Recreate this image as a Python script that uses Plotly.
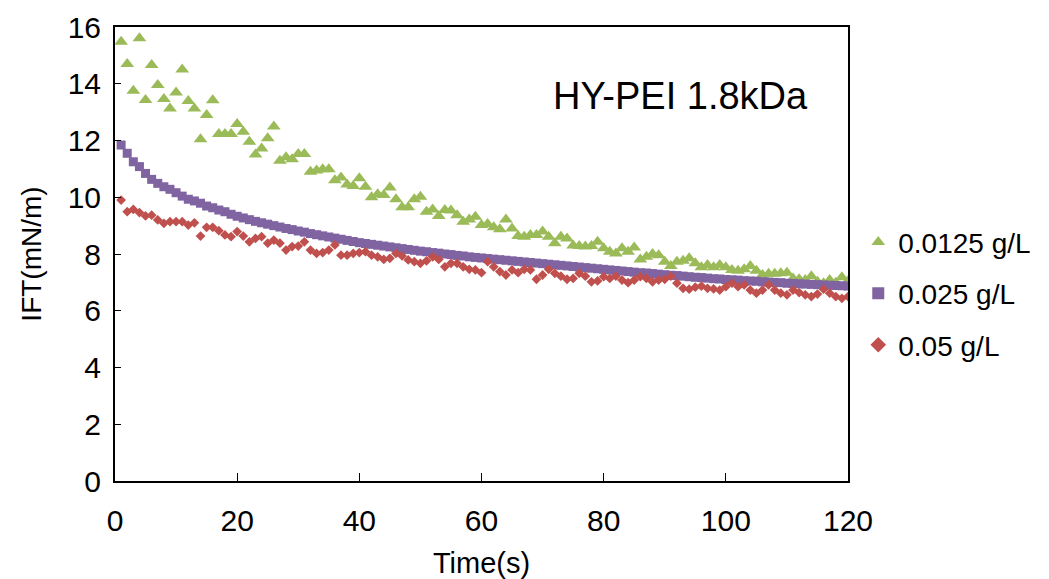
import plotly.graph_objects as go

time_s = list(range(1, 121))

ift_00125 = [15.48, 14.7, 13.75, 15.6, 13.43, 14.66, 13.96, 13.46, 13.13, 13.69,
             14.5, 13.39, 13.13, 12.04, 12.9, 13.42, 12.23, 12.23, 12.23, 12.58,
             12.31, 11.96, 11.51, 11.72, 12.08, 12.49, 11.29, 11.41, 11.34, 11.52,
             11.52, 10.9, 10.94, 10.99, 10.99, 10.6, 10.7, 10.45, 10.4, 10.67,
             10.37, 10.0, 10.11, 10.08, 10.34, 9.93, 9.65, 9.65, 9.93, 10.02,
             9.49, 9.57, 9.34, 9.55, 9.53, 9.37, 9.14, 9.22, 9.31, 9.02,
             9.06, 8.94, 8.87, 9.22, 8.9, 8.63, 8.61, 8.67, 8.67, 8.79,
             8.61, 8.38, 8.61, 8.55, 8.3, 8.28, 8.26, 8.28, 8.43, 8.2,
             8.08, 8.02, 8.2, 8.08, 8.23, 7.81, 7.9, 8.0, 7.96, 7.73,
             7.58, 7.73, 7.76, 7.85, 7.67, 7.53, 7.61, 7.53, 7.61, 7.53,
             7.44, 7.41, 7.46, 7.58, 7.41, 7.26, 7.30, 7.30, 7.32, 7.34,
             7.14, 7.11, 7.08, 7.22, 7.02, 6.97, 7.08, 6.99, 7.18, 7.05]

ift_0025 = [11.84, 11.55, 11.25, 11.08, 10.84, 10.63, 10.49, 10.37, 10.28, 10.16,
            10.04, 9.93, 9.87, 9.79, 9.69, 9.63, 9.55, 9.49, 9.4, 9.33,
            9.27, 9.21, 9.15, 9.10, 9.05, 9.00, 8.95, 8.90, 8.86, 8.81,
            8.77, 8.72, 8.68, 8.64, 8.60, 8.56, 8.52, 8.48, 8.44, 8.40,
            8.37, 8.34, 8.31, 8.28, 8.25, 8.22, 8.19, 8.16, 8.13, 8.10,
            8.08, 8.05, 8.03, 8.00, 7.98, 7.95, 7.93, 7.90, 7.88, 7.86,
            7.84, 7.82, 7.80, 7.78, 7.76, 7.74, 7.72, 7.70, 7.68, 7.66,
            7.64, 7.62, 7.60, 7.58, 7.56, 7.54, 7.52, 7.50, 7.48, 7.46,
            7.44, 7.42, 7.40, 7.38, 7.36, 7.34, 7.33, 7.31, 7.29, 7.27,
            7.25, 7.24, 7.22, 7.20, 7.18, 7.17, 7.15, 7.13, 7.12, 7.10,
            7.09, 7.08, 7.06, 7.05, 7.04, 7.02, 7.01, 7.00, 6.99, 6.97,
            6.96, 6.95, 6.94, 6.93, 6.92, 6.91, 6.90, 6.89, 6.88, 6.87]

ift_005 = [9.9, 9.49, 9.57, 9.46, 9.34, 9.37, 9.2, 9.08, 9.14, 9.14,
           9.14, 9.02, 9.1, 8.63, 8.94, 8.94, 8.82, 8.67, 8.61, 8.79,
           8.63, 8.43, 8.55, 8.61, 8.38, 8.49, 8.38, 8.14, 8.26, 8.28,
           8.43, 8.14, 8.02, 8.05, 8.14, 8.32, 7.96, 7.96, 8.02, 8.05,
           8.08, 7.96, 7.9, 7.81, 7.85, 8.02, 7.93, 7.79, 7.73, 7.67,
           7.76, 7.9, 7.81, 7.55, 7.67, 7.67, 7.55, 7.46, 7.44, 7.34,
           7.73, 7.55, 7.38, 7.26, 7.44, 7.34, 7.46, 7.44, 7.11, 7.26,
           7.46, 7.32, 7.22, 7.11, 7.14, 7.32, 7.22, 7.02, 7.05, 7.2,
           7.14, 7.22, 7.08, 6.99, 7.08, 7.2, 7.14, 7.02, 7.08, 7.11,
           7.22, 6.97, 6.79, 6.76, 6.83, 6.87, 6.79, 6.77, 6.73, 6.85,
           6.97, 6.85, 6.91, 6.73, 6.62, 6.73, 6.91, 6.73, 6.62, 6.56,
           6.73, 6.64, 6.56, 6.5, 6.59, 6.76, 6.62, 6.5, 6.44, 6.5]

series_names = ["0.0125 g/L", "0.025 g/L", "0.05 g/L"]
x_ticks = [0, 20, 40, 60, 80, 100, 120]
y_ticks = [0, 2, 4, 6, 8, 10, 12, 14, 16]

FONT = "Liberation Sans, Arial, sans-serif"

fig = go.Figure()
specs = [
    (ift_00125, series_names[0], "triangle-up", 12, "#9BBB59"),
    (ift_0025, series_names[1], "square", 9, "#8064A2"),
    (ift_005, series_names[2], "diamond", 7.5, "#C0504D"),
]
for i, (vals, name, sym, sz, col) in enumerate(specs):
    fig.add_trace(go.Scatter(
        x=time_s, y=vals, name=name, mode="markers",
        legendgroup=f"g{i}",
        marker=dict(symbol=sym, size=sz, color=col, line=dict(width=0)),
    ))

fig.add_annotation(
    text="HY-PEI 1.8kDa", xref="paper", yref="paper",
    x=0.772, y=0.848, xanchor="center", yanchor="middle", showarrow=False,
    font=dict(family=FONT, size=38, color="black"),
)

fig.update_layout(
    width=1041, height=571,
    margin=dict(l=107, r=201, t=19, b=98),
    plot_bgcolor="white", paper_bgcolor="white",
    font=dict(family=FONT, size=28, color="black"),
    showlegend=True,
    legend=dict(
        x=1.014, y=0.581, xanchor="left", yanchor="top",
        font=dict(family=FONT, size=28, color="black"),
        tracegroupgap=12, itemsizing="constant",
        bgcolor="rgba(0,0,0,0)",
    ),
    xaxis=dict(
        range=[0, 120], tickvals=x_ticks, ticktext=[str(v) for v in x_ticks],
        showgrid=False, zeroline=False, automargin=False,
        showline=True, linecolor="black", linewidth=2, mirror=True,
        ticks="inside", ticklen=8, tickwidth=1, tickcolor="black",
        ticklabelstandoff=12,
        title=dict(text="Time(s)", font=dict(family=FONT, size=29), standoff=18),
        tickfont=dict(family=FONT, size=30),
    ),
    yaxis=dict(
        range=[0, 16], tickvals=y_ticks, ticktext=[str(v) for v in y_ticks],
        showgrid=False, zeroline=False, automargin=False,
        showline=True, linecolor="black", linewidth=2, mirror=True,
        ticks="inside", ticklen=6, tickwidth=1, tickcolor="black",
        ticklabelstandoff=6,
        title=dict(text="IFT(mN/m)", font=dict(family=FONT, size=28), standoff=18),
        tickfont=dict(family=FONT, size=30),
    ),
)

fig.write_html("out.html")
